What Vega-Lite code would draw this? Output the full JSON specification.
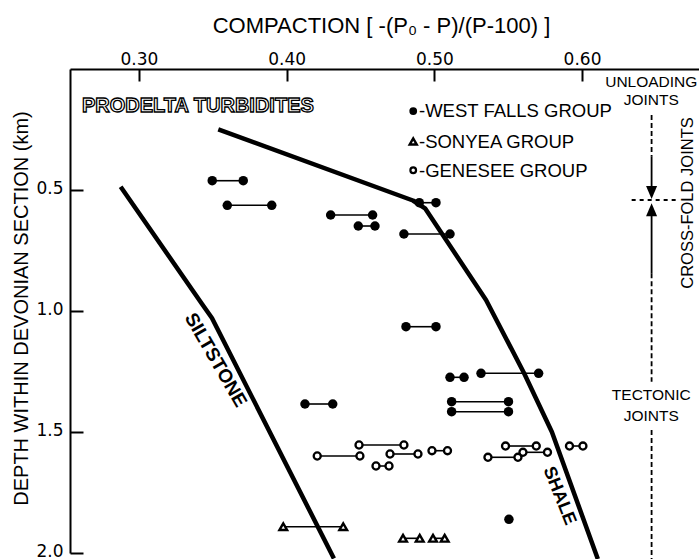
{
  "$schema": "https://vega.github.io/schema/vega-lite/v6.json",
  "width": 629,
  "height": 484,
  "autosize": {"type": "none"},
  "padding": {"left": 70, "top": 69, "right": 0, "bottom": 6},
  "background": "white",
  "config": {"view": {"stroke": null}, "font": "Liberation Sans"},
  "datasets": {
    "curves": [
      {"curve": "shale", "o": 1, "c": 0.3537, "d": 0.2492},
      {"curve": "shale", "o": 2, "c": 0.4855, "d": 0.5434},
      {"curve": "shale", "o": 3, "c": 0.4937, "d": 0.5756},
      {"curve": "shale", "o": 4, "c": 0.5350, "d": 0.9545},
      {"curve": "shale", "o": 5, "c": 0.5607, "d": 1.2562},
      {"curve": "shale", "o": 6, "c": 0.5796, "d": 1.5},
      {"curve": "shale", "o": 7, "c": 0.6107, "d": 2.0248},
      {"curve": "silt", "o": 1, "c": 0.2876, "d": 0.4864},
      {"curve": "silt", "o": 2, "c": 0.3427, "d": 0.9711},
      {"curve": "silt", "o": 3, "c": 0.3494, "d": 1.0289},
      {"curve": "silt", "o": 4, "c": 0.4320, "d": 2.0227}
    ],
    "pts": [
      {"g": "WF", "pair": "w1", "c": 0.3496, "d": 0.4616},
      {"g": "WF", "pair": "w1", "c": 0.3706, "d": 0.4616},
      {"g": "WF", "pair": "w2", "c": 0.3598, "d": 0.5632},
      {"g": "WF", "pair": "w2", "c": 0.3899, "d": 0.5632},
      {"g": "WF", "pair": "w3", "c": 0.4298, "d": 0.6033},
      {"g": "WF", "pair": "w3", "c": 0.4582, "d": 0.6033},
      {"g": "WF", "pair": "w4", "c": 0.4485, "d": 0.6488},
      {"g": "WF", "pair": "w4", "c": 0.4598, "d": 0.6488},
      {"g": "WF", "pair": "w5", "c": 0.4898, "d": 0.5525},
      {"g": "WF", "pair": "w5", "c": 0.5011, "d": 0.5525},
      {"g": "WF", "pair": "w6", "c": 0.4794, "d": 0.6818},
      {"g": "WF", "pair": "w6", "c": 0.5106, "d": 0.6818},
      {"g": "WF", "pair": "w7", "c": 0.4808, "d": 1.0649},
      {"g": "WF", "pair": "w7", "c": 0.5011, "d": 1.0649},
      {"g": "WF", "pair": "w8", "c": 0.4124, "d": 1.3843},
      {"g": "WF", "pair": "w8", "c": 0.4312, "d": 1.3843},
      {"g": "WF", "pair": "w9", "c": 0.5106, "d": 1.2740},
      {"g": "WF", "pair": "w9", "c": 0.5201, "d": 1.2740},
      {"g": "WF", "pair": "w10", "c": 0.5316, "d": 1.2574},
      {"g": "WF", "pair": "w10", "c": 0.5706, "d": 1.2574},
      {"g": "WF", "pair": "w11", "c": 0.5117, "d": 1.3748},
      {"g": "WF", "pair": "w11", "c": 0.5502, "d": 1.3748},
      {"g": "WF", "pair": "w12", "c": 0.5117, "d": 1.4161},
      {"g": "WF", "pair": "w12", "c": 0.5502, "d": 1.4161},
      {"g": "WF", "pair": "w13", "c": 0.5505, "d": 1.8607},
      {"g": "GE", "pair": "g1", "c": 0.4207, "d": 1.5992},
      {"g": "GE", "pair": "g1", "c": 0.4496, "d": 1.5992},
      {"g": "GE", "pair": "g2", "c": 0.4490, "d": 1.5537},
      {"g": "GE", "pair": "g2", "c": 0.4794, "d": 1.5537},
      {"g": "GE", "pair": "g3", "c": 0.4700, "d": 1.5909},
      {"g": "GE", "pair": "g3", "c": 0.4889, "d": 1.5909},
      {"g": "GE", "pair": "g4", "c": 0.4605, "d": 1.6405},
      {"g": "GE", "pair": "g4", "c": 0.4693, "d": 1.6405},
      {"g": "GE", "pair": "g5", "c": 0.4984, "d": 1.5773},
      {"g": "GE", "pair": "g5", "c": 0.5089, "d": 1.5773},
      {"g": "GE", "pair": "g6", "c": 0.5363, "d": 1.6045},
      {"g": "GE", "pair": "g6", "c": 0.5566, "d": 1.6045},
      {"g": "GE", "pair": "g7", "c": 0.5482, "d": 1.5579},
      {"g": "GE", "pair": "g7", "c": 0.5690, "d": 1.5579},
      {"g": "GE", "pair": "g8", "c": 0.5600, "d": 1.5839},
      {"g": "GE", "pair": "g8", "c": 0.5766, "d": 1.5839},
      {"g": "GE", "pair": "g9", "c": 0.5915, "d": 1.5579},
      {"g": "GE", "pair": "g9", "c": 0.6006, "d": 1.5579},
      {"g": "SO", "pair": "s1", "c": 0.3977, "d": 1.8913},
      {"g": "SO", "pair": "s1", "c": 0.4383, "d": 1.8913},
      {"g": "SO", "pair": "s2", "c": 0.4788, "d": 1.9393},
      {"g": "SO", "pair": "s2", "c": 0.4901, "d": 1.9393},
      {"g": "SO", "pair": "s3", "c": 0.4991, "d": 1.9393},
      {"g": "SO", "pair": "s3", "c": 0.5070, "d": 1.9393}
    ],
    "legmk": [
      {"g": "WF", "c": 0.4857, "d": 0.1736},
      {"g": "SO", "c": 0.4857, "d": 0.2996},
      {"g": "GE", "c": 0.4857, "d": 0.4186}
    ],
    "legtxt": [
      {"t": "-WEST FALLS GROUP", "c": 0.4896, "d": 0.1996},
      {"t": "-SONYEA GROUP", "c": 0.4896, "d": 0.3277},
      {"t": "-GENESEE GROUP", "c": 0.4896, "d": 0.4475}
    ],
    "jtxt": [
      {"t": "UNLOADING", "c": 0.6469, "d": 0.0756},
      {"t": "JOINTS", "c": 0.6469, "d": 0.1488},
      {"t": "TECTONIC", "c": 0.6469, "d": 1.3678},
      {"t": "JOINTS", "c": 0.6469, "d": 1.4533}
    ],
    "vdash": [
      {"c": 0.6471, "d": 0.1901, "d2": 0.3624},
      {"c": 0.6471, "d": 0.8442, "d2": 1.2921},
      {"c": 0.6471, "d": 1.4917, "d2": 2.0248}
    ],
    "vsolid": [
      {"c": 0.6471, "d": 0.3624, "d2": 0.4917},
      {"c": 0.6471, "d": 0.5909, "d2": 0.8442}
    ],
    "hdash": [
      {"c": 0.6336, "c2": 0.6641, "d": 0.5413}
    ],
    "arrows": [
      {"dir": "down", "c": 0.6471, "d": 0.5103},
      {"dir": "up", "c": 0.6471, "d": 0.5818}
    ]
  },
  "encoding": {
    "x": {
      "field": "c",
      "type": "quantitative",
      "scale": {"domain": [0.2533, 0.6792], "nice": false, "zero": false},
      "axis": {
        "orient": "top",
        "values": [0.3, 0.4, 0.5, 0.6],
        "format": ".2f",
        "grid": false,
        "title": "COMPACTION  [ -(P₀ - P)/(P-100) ]",
        "titleFont": "Liberation Sans",
        "titleFontSize": 22,
        "titleFontWeight": "normal",
        "titleColor": "black",
        "titleX": 311,
        "titleY": -37,
        "titleBaseline": "alphabetic",
        "titleAlign": "center",
        "domainColor": "black",
        "domainWidth": 2,
        "tickColor": "black",
        "tickWidth": 2,
        "tickSize": -12,
        "labelPadding": 17,
        "labelFont": "DejaVu Sans",
        "labelFontSize": 17,
        "labelColor": "black",
        "labelBaseline": "alphabetic",
        "labelFlush": false,
        "labelOverlap": false
      }
    },
    "y": {
      "field": "d",
      "type": "quantitative",
      "scale": {"domain": [0, 2], "reverse": true, "nice": false, "zero": false},
      "axis": {
        "orient": "left",
        "values": [0.5, 1, 1.5, 2],
        "format": ".1f",
        "grid": false,
        "title": "DEPTH WITHIN DEVONIAN SECTION (km)",
        "titleFont": "Liberation Sans",
        "titleFontSize": 20,
        "titleFontWeight": "normal",
        "titleColor": "black",
        "titleAngle": 270,
        "titleX": -43,
        "titleY": 239,
        "titleBaseline": "alphabetic",
        "titleAlign": "center",
        "domainColor": "black",
        "domainWidth": 2,
        "tickColor": "black",
        "tickWidth": 2,
        "tickSize": -13,
        "labelPadding": 20,
        "labelOffset": -2,
        "labelFont": "DejaVu Sans",
        "labelFontSize": 17,
        "labelColor": "black",
        "labelBaseline": "middle",
        "labelFlush": false,
        "labelOverlap": false
      }
    }
  },
  "layer": [
    {
      "data": {"name": "curves"},
      "mark": {"type": "line", "color": "black", "strokeWidth": 4.5, "strokeJoin": "round"},
      "encoding": {"detail": {"field": "curve"}, "order": {"field": "o", "type": "quantitative"}}
    },
    {
      "data": {"name": "pts"},
      "mark": {"type": "line", "color": "black", "strokeWidth": 1.6},
      "encoding": {"detail": {"field": "pair"}, "order": {"field": "c", "type": "quantitative"}}
    },
    {
      "data": {"name": "vdash"},
      "mark": {"type": "rule", "color": "black", "strokeWidth": 1.8, "strokeDash": [5, 3]},
      "encoding": {"y2": {"field": "d2"}}
    },
    {
      "data": {"name": "vsolid"},
      "mark": {"type": "rule", "color": "black", "strokeWidth": 1.8},
      "encoding": {"y2": {"field": "d2"}}
    },
    {
      "data": {"name": "hdash"},
      "mark": {"type": "rule", "color": "black", "strokeWidth": 1.8, "strokeDash": [4, 4]},
      "encoding": {"x2": {"field": "c2"}}
    },
    {
      "data": {"name": "arrows"},
      "mark": {"type": "point", "filled": true, "color": "black", "size": 169, "opacity": 1},
      "encoding": {
        "shape": {
          "field": "dir",
          "type": "nominal",
          "scale": {"domain": ["down", "up"], "range": ["M0,1L-0.85,-1L0.85,-1Z", "M0,-1L-0.85,1L0.85,1Z"]},
          "legend": null
        }
      }
    },
    {
      "data": {"name": "pts"},
      "transform": [{"filter": "datum.g === 'WF'"}],
      "mark": {"type": "point", "shape": "circle", "filled": true, "color": "black", "size": 90, "opacity": 1}
    },
    {
      "data": {"name": "pts"},
      "transform": [{"filter": "datum.g === 'GE'"}],
      "mark": {"type": "point", "shape": "circle", "filled": true, "fill": "white", "stroke": "black", "strokeWidth": 2.3, "size": 50, "opacity": 1}
    },
    {
      "data": {"name": "pts"},
      "transform": [{"filter": "datum.g === 'SO'"}],
      "mark": {"type": "point", "shape": "triangle-up", "filled": true, "fill": "white", "stroke": "black", "strokeWidth": 2.4, "size": 60, "opacity": 1}
    },
    {
      "data": {"name": "legmk"},
      "transform": [{"filter": "datum.g === 'WF'"}],
      "mark": {"type": "point", "shape": "circle", "filled": true, "color": "black", "size": 60, "opacity": 1}
    },
    {
      "data": {"name": "legmk"},
      "transform": [{"filter": "datum.g === 'GE'"}],
      "mark": {"type": "point", "shape": "circle", "filled": true, "fill": "white", "stroke": "black", "strokeWidth": 2.2, "size": 32, "opacity": 1}
    },
    {
      "data": {"name": "legmk"},
      "transform": [{"filter": "datum.g === 'SO'"}],
      "mark": {"type": "point", "shape": "triangle-up", "filled": true, "fill": "white", "stroke": "black", "strokeWidth": 2.4, "size": 50, "opacity": 1}
    },
    {
      "data": {"name": "legtxt"},
      "mark": {"type": "text", "font": "Liberation Sans", "fontSize": 18.5, "align": "left", "baseline": "alphabetic", "color": "black"},
      "encoding": {"text": {"field": "t"}}
    },
    {
      "data": {"name": "jtxt"},
      "mark": {"type": "text", "font": "Liberation Sans", "fontSize": 15.5, "align": "center", "baseline": "alphabetic", "color": "black"},
      "encoding": {"text": {"field": "t"}}
    },
    {
      "data": {"values": [{"t": "CROSS-FOLD JOINTS", "c": 0.6753, "d": 0.5537}]},
      "mark": {"type": "text", "font": "Liberation Sans", "fontSize": 16.5, "align": "center", "baseline": "alphabetic", "angle": 270, "color": "black"},
      "encoding": {"text": {"field": "t"}}
    },
    {
      "data": {"values": [{"t": "SILTSTONE", "c": 0.3520, "d": 1.2025}]},
      "mark": {"type": "text", "font": "Liberation Sans", "fontSize": 19, "fontWeight": "bold", "align": "center", "baseline": "middle", "angle": 60, "color": "black"},
      "encoding": {"text": {"field": "t"}}
    },
    {
      "data": {"values": [{"t": "SHALE", "c": 0.5846, "d": 1.7645}]},
      "mark": {"type": "text", "font": "Liberation Sans", "fontSize": 18, "fontWeight": "bold", "align": "center", "baseline": "middle", "angle": 68, "color": "black"},
      "encoding": {"text": {"field": "t"}}
    },
    {
      "data": {"values": [{"t": "PRODELTA TURBIDITES", "c": 0.2614, "d": 0.1764}]},
      "mark": {"type": "text", "font": "Liberation Sans", "fontSize": 20, "fontWeight": "bold", "align": "left", "baseline": "alphabetic", "fill": "white", "stroke": "black", "strokeWidth": 1.3},
      "encoding": {"text": {"field": "t"}}
    }
  ]
}
